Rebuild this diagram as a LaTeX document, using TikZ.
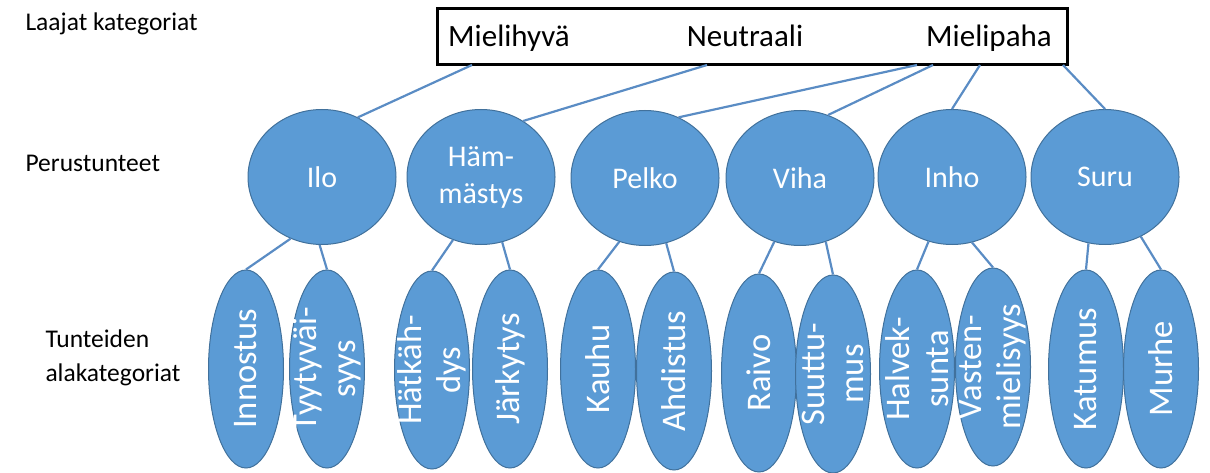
\documentclass[tikz,border=0pt]{standalone}
\usepackage{fontspec}
\setmainfont{Carlito}
\usetikzlibrary{shapes.geometric}
\definecolor{fillblue}{HTML}{5B9BD5}
\definecolor{edgeblue}{HTML}{41719C}
\definecolor{linkblue}{HTML}{5A8CC4}
\begin{document}
\begin{tikzpicture}[x=1pt,y=-1pt,
  basic/.style={ellipse, fill=fillblue, draw=edgeblue, line width=1pt,
    minimum width=148pt, minimum height=135pt, inner sep=0pt, text=white,
    font=\fontsize{30}{37}\selectfont, align=center},
  sub/.style={ellipse, fill=fillblue, draw=edgeblue, line width=1pt,
    minimum width=75pt, minimum height=198pt, inner sep=0pt,
    label={[rotate=90, text=white, font=\fontsize{34.5}{39}\selectfont, align=center]center:#1}},
  link/.style={draw=linkblue, line width=2.2pt},
  catbox/.style={draw=black, line width=3pt, minimum width=630pt, minimum height=56pt, inner sep=0pt},
  cattext/.style={font=\fontsize{31}{36}\selectfont, anchor=base},
  side/.style={font=\fontsize{25.5}{34}\selectfont, anchor=base west, align=left}
]
\useasboundingbox (0,0) rectangle (1210,473);

% left labels
\node[side] (l1) at (22,31) {Laajat kategoriat};
\node[side] (l2) at (22,172) {Perustunteet};
\node[side, anchor=north west] (l3) at (42,326) {Tunteiden\\alakategoriat};

% broad categories box
\node[catbox] (box) at (752,37) {};
\node[cattext] (mh) at (509,47) {Mielihyvä};
\node[cattext] (ne) at (745,47) {Neutraali};
\node[cattext] (mp) at (989,47) {Mielipaha};

\coordinate (b1) at (472,65);
\coordinate (b2) at (707,65);
\coordinate (b3) at (917,65);
\coordinate (b4) at (933,65);
\coordinate (b5) at (980,65);
\coordinate (b6) at (1063,65);

% basic emotions
\node[basic] (ilo) at (322,177) {Ilo};
\node[basic] (ham) at (481,177) {Häm-\\mästys};
\node[basic] (pel) at (645,178) {Pelko};
\node[basic] (vih) at (800,178) {Viha};
\node[basic] (inh) at (952,177) {Inho};
\node[basic] (sur) at (1105,177) {Suru};

% sub categories
\node[sub={Innostus}] (s1) at (246,369) {};
\node[sub={Tyytyväi-\\syys}] (s2) at (327,369) {};
\node[sub={Hätkäh-\\dys}] (s3) at (432,370) {};
\node[sub={Järkytys}] (s4) at (510,369) {};
\node[sub={Kauhu}] (s5) at (598,369) {};
\node[sub={Ahdistus}] (s6) at (674,371) {};
\node[sub={Raivo}] (s7) at (759,373) {};
\node[sub={Suuttu-\\mus}] (s8) at (833,374) {};
\node[sub={Halvek-\\sunta}] (s9) at (917,369) {};
\node[sub={Vasten-\\mielisyys}] (s10) at (993,367) {};
\node[sub={Katumus}] (s11) at (1086,369) {};
\node[sub={Murhe}] (s12) at (1161,369) {};

% connectors top
\draw[link] (b1) -- (ilo.59);
\draw[link] (b2) -- (ham.53);
\draw[link] (b3) -- (pel.61);
\draw[link] (b4) -- (vih.66);
\draw[link] (b5) -- (inh.90);
\draw[link] (b6) -- (sur.90);

% connectors bottom
\draw[link] (s1.north) -- (ilo.-117);
\draw[link] (s2.north) -- (ilo.-92);
\draw[link] (s3.north) -- (ham.-114);
\draw[link] (s4.north) -- (ham.-72);
\draw[link] (s5.north) -- (pel.-112);
\draw[link] (s6.north) -- (pel.-72);
\draw[link] (s7.north) -- (vih.-112);
\draw[link] (s8.north) -- (vih.-68);
\draw[link] (s9.north) -- (inh.-110);
\draw[link] (s10.north) -- (inh.-73);
\draw[link] (s11.north) -- (sur.-104);
\draw[link] (s12.north) -- (sur.-59);
\end{tikzpicture}
\end{document}
